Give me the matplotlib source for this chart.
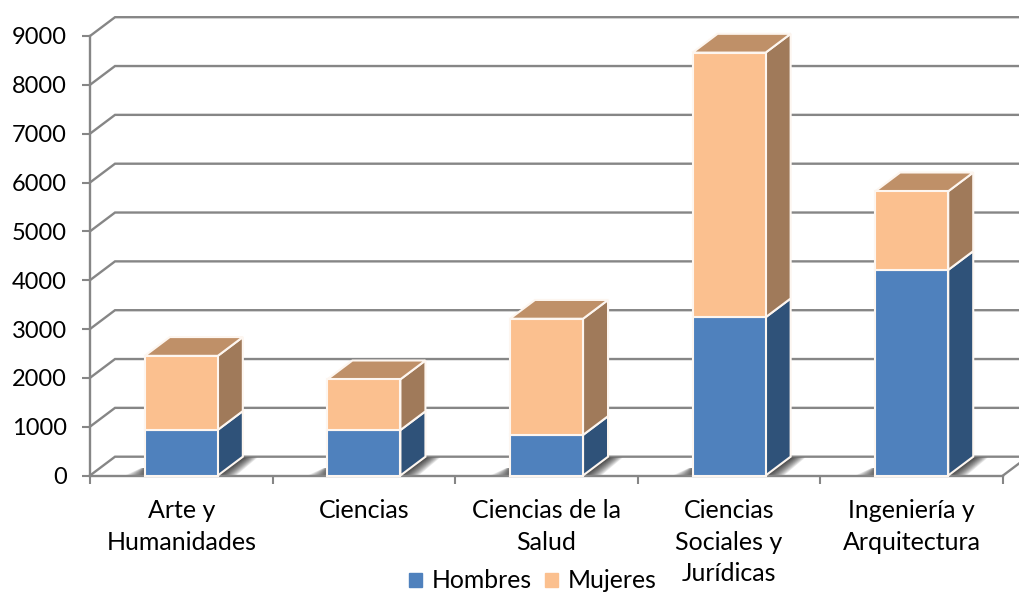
import matplotlib
matplotlib.use('Agg')
import matplotlib.pyplot as plt
from matplotlib.patches import Polygon
import numpy as np

categorias = ['Arte y\nHumanidades', 'Ciencias', 'Ciencias de la\nSalud',
              'Ciencias\nSociales y\nJurídicas', 'Ingeniería y\nArquitectura']
hombres = [935, 930, 830, 3240, 4210]
mujeres = [1515, 1040, 2380, 5420, 1610]
yticks = [0, 1000, 2000, 3000, 4000, 5000, 6000, 7000, 8000, 9000]

GRIS = '#868686'
# profundidad del efecto 3D en unidades de datos
DX = 0.137
DY = 385
ANCHO = 0.4


def barra_3d(ax, x, y0, y1, frente, lado, techo=None):
    ax.bar(x, y1 - y0, ANCHO, bottom=y0, color=frente, edgecolor='#fdf6f0', linewidth=1.5, zorder=5, clip_on=False)
    x1 = x + ANCHO / 2
    x0 = x - ANCHO / 2
    ax.add_patch(Polygon([(x1, y0), (x1 + DX, y0 + DY), (x1 + DX, y1 + DY), (x1, y1)],
                         facecolor=lado, edgecolor='#fdf6f0', linewidth=1.5, zorder=4, clip_on=False))
    if techo:
        ax.add_patch(Polygon([(x0, y1), (x0 + DX, y1 + DY), (x1 + DX, y1 + DY), (x1, y1)],
                             facecolor=techo, edgecolor='#fdf6f0', linewidth=1.5, zorder=4, clip_on=False))


def sombra(ax, x):
    # sombra difusa en el suelo, a ambos lados de la base
    x1 = x + ANCHO / 2
    x0 = x - ANCHO / 2
    for f in np.linspace(0.1, 1, 12):
        ax.add_patch(Polygon([(x1, 0), (x1 + DX, DY * 0.95), (x1 + DX + 0.08 * f, DY * 0.95), (x1 + 0.1 * f, 0)],
                             facecolor='k', edgecolor='none', alpha=0.09, zorder=2, clip_on=False))
        ax.add_patch(Polygon([(x0, 0), (x0, DY * 0.4), (x0 - 0.02 * f, DY * 0.4), (x0 - 0.11 * f, 0)],
                             facecolor='k', edgecolor='none', alpha=0.07, zorder=2, clip_on=False))


fig = plt.figure(figsize=(10.19, 5.92), dpi=100)
ax = fig.add_axes([90 / 1019, (592 - 475.5) / 592, 913 / 1019, 439.5 / 592])
plt.rcParams['font.family'] = ['Lato', 'DejaVu Sans']

x = np.arange(len(categorias)) + 0.5
ax.set_xlim(0, len(categorias))
ax.set_ylim(0, 9000)

# paredes: rejilla en perspectiva
for v in yticks:
    ax.plot([0, DX, 5 + DX], [v, v + DY, v + DY], color=GRIS, lw=1.7, zorder=1, clip_on=False,
            solid_joinstyle='miter')
ax.plot([5, 5 + DX], [0, DY], color=GRIS, lw=1.7, zorder=1, clip_on=False)

for i in range(len(x)):
    sombra(ax, x[i])
    total = hombres[i] + mujeres[i]
    barra_3d(ax, x[i], 0, hombres[i], '#4f81bd', '#2f5279')
    barra_3d(ax, x[i], hombres[i], total, '#fbc08f', '#a07a5a', '#bf9068')

for lado in ['top', 'right']:
    ax.spines[lado].set_visible(False)
for lado in ['left', 'bottom']:
    ax.spines[lado].set_color(GRIS)
    ax.spines[lado].set_linewidth(1.7)
    ax.spines[lado].set_zorder(3)

ax.set_yticks(yticks)
ax.set_xticks(np.arange(len(categorias) + 1))
ax.set_xticklabels([])
ax.set_xticks(x, minor=True)
ax.set_xticklabels(categorias, minor=True, fontsize=18, family=['Lato', 'DejaVu Sans'], linespacing=1.45)
ax.tick_params(axis='x', which='major', length=6, width=1.5, color=GRIS)
ax.tick_params(axis='x', which='minor', length=0, pad=17)
ax.tick_params(axis='y', length=6, width=1.5, color=GRIS, labelsize=17, pad=10.5)
for t in ax.get_yticklabels():
    t.set_family(['Lato', 'DejaVu Sans'])

h1 = plt.Rectangle((0, 0), 1, 1, color='#4f81bd')
h2 = plt.Rectangle((0, 0), 1, 1, color='#fbc08f')
fig.legend([h1, h2], ['Hombres', 'Mujeres'], loc='center', bbox_to_anchor=(533 / 1019, 1 - 581 / 592),
           ncol=2, frameon=False, handlelength=0.52, handleheight=0.52, handletextpad=0.4,
           columnspacing=0.55, prop={'family': ['Lato', 'DejaVu Sans'], 'size': 17.8},
           borderpad=0, borderaxespad=0)

fig.savefig('out.png', dpi=100)
